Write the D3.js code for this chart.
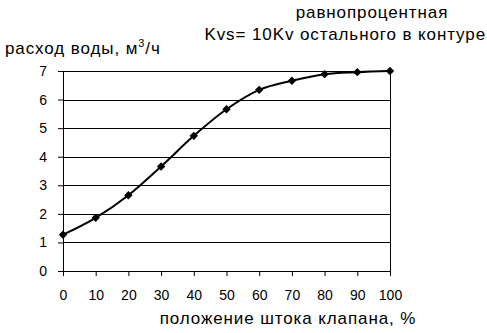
<!DOCTYPE html>
<meta charset="utf-8">
<style>
body { margin: 0; background: #fff; }
text { font-family: "Liberation Sans", Arial, sans-serif; fill: #000; }
.tick text { font-size: 14px; }
.title { font-size: 17px; letter-spacing: 0.9px; }
</style>
<body>
<script src="https://d3js.org/d3.v7.min.js"></script>
<script>
// chart data
var positions = [0, 10, 20, 30, 40, 50, 60, 70, 80, 90, 100];
var flows = [1.27, 1.86, 2.65, 3.66, 4.73, 5.66, 6.34, 6.66, 6.89, 6.96, 7.0];
var yTicks = [0, 1, 2, 3, 4, 5, 6, 7];
var titleLine1 = "равнопроцентная";
var titleLine2 = "Kvs= 10Kv остального в контуре";
var yLabel = "расход воды, м";
var xLabel = "положение штока клапана, %";

var W = 487, H = 333;
var margin = {top: 71, left: 63, right: 97, bottom: 62};
var width = W - margin.left - margin.right,
    height = H - margin.top - margin.bottom;

var svg = d3.select("body").append("svg")
    .attr("width", W)
    .attr("height", H);

var g = svg.append("g")
    .attr("transform", "translate(" + margin.left + "," + margin.top + ")");

var x = d3.scaleLinear().domain([0, 100]).range([0, width]);
var y = d3.scaleLinear().domain([0, 7]).range([height, 0]);

// horizontal gridlines
g.selectAll(".grid")
    .data(yTicks.slice(1))
  .enter().append("line")
    .attr("x1", 0)
    .attr("x2", width)
    .attr("y1", function(d) { return Math.round(y(d)) + 0.5; })
    .attr("y2", function(d) { return Math.round(y(d)) + 0.5; })
    .attr("stroke", "#000")
    .attr("stroke-width", 1);

// right border of plot area
g.append("line")
    .attr("x1", Math.round(width) + 0.5).attr("x2", Math.round(width) + 0.5)
    .attr("y1", 0).attr("y2", height)
    .attr("stroke", "#000");

// axes
var yAxis = g.append("g")
    .call(d3.axisLeft(y).tickValues(yTicks).tickFormat(d3.format("d")).tickSize(5).tickPadding(11));
var xAxis = g.append("g")
    .attr("transform", "translate(0," + height + ")")
    .call(d3.axisBottom(x).tickValues(positions).tickFormat(d3.format("d")).tickSize(5).tickPadding(14));
[yAxis, xAxis].forEach(function(a) {
  a.selectAll("path, line").attr("stroke", "#000");
  a.select(".domain").attr("d", a === yAxis ? "M0.5,0V" + height : "M0,0.5H" + width);
});

// smoothed line
var line = d3.line()
    .x(function(d, i) { return x(positions[i]); })
    .y(function(d) { return y(d); })
    .curve(d3.curveCatmullRom.alpha(0.5));

g.append("path")
    .datum(flows)
    .attr("fill", "none")
    .attr("stroke", "#000")
    .attr("stroke-width", 2)
    .attr("d", line);

// diamond markers
g.selectAll(".pt")
    .data(flows)
  .enter().append("path")
    .attr("d", d3.symbol().type(d3.symbolDiamond2).size(45))
    .attr("transform", function(d, i) { return "translate(" + x(positions[i]) + "," + y(d) + ")"; })
    .attr("fill", "#000");

// titles
svg.append("text").attr("class", "title")
    .attr("x", 372).attr("y", 18).attr("text-anchor", "middle")
    .text(titleLine1);
svg.append("text").attr("class", "title")
    .attr("x", 486).attr("y", 40).attr("text-anchor", "end")
    .text(titleLine2);

var yl = svg.append("text").attr("class", "title")
    .attr("x", 5).attr("y", 54);
yl.append("tspan").text(yLabel);
yl.append("tspan").attr("dy", -7).style("font-size", "11px").text("3");
yl.append("tspan").attr("dy", 7).text("/ч");

svg.append("text").attr("class", "title")
    .attr("x", 288).attr("y", 324).attr("text-anchor", "middle")
    .text(xLabel);
</script>
</body>
